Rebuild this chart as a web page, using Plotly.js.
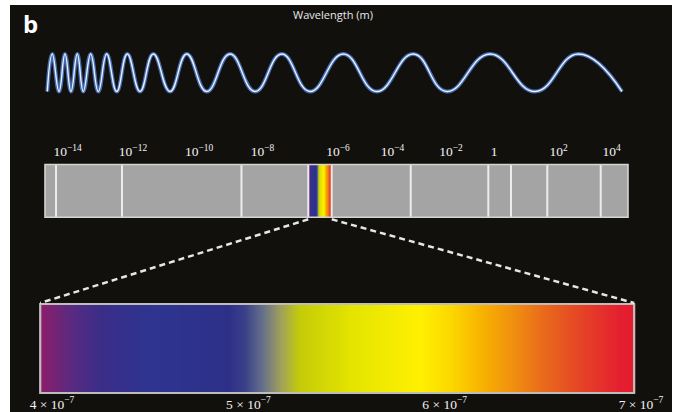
<!DOCTYPE html>
<html><head><meta charset="utf-8">
<script src="https://cdn.plot.ly/plotly-3.0.1.min.js"></script>
<style>html,body{margin:0;padding:0;background:#fff;} #chart{width:679px;height:412px;}</style>
</head><body><div id="chart"></div>
<script>
// ---- Data ----
// Wave: successive troughs (-1) and peaks (+1) along the wave (position along the wave)
const waveX = [0, 5, 11.7, 17.7, 23.7, 30, 36, 43.4, 51, 59.4, 69.4, 80, 92.7, 106, 122.7, 139.4, 159.4, 182.7, 207.7, 234.4, 262.7, 296, 329.4, 366, 399.4, 442.7, 487.7, 531, 574.7];
const waveY = [-1, 1, -1, 1, -1, 1, -1, 1, -1, 1, -1, 1, -1, 1, -1, 1, -1, 1, -1, 1, -1, 1, -1, 1, -1, 1, -1, 1, -1];

// Electromagnetic spectrum bar (positions as a fraction of the bar length)
const tickLabels = ['10<sup>−14</sup>', '10<sup>−12</sup>', '10<sup>−10</sup>', '10<sup>−8</sup>', '10<sup>−6</sup>', '10<sup>−4</sup>', '10<sup>−2</sup>', '1', '10<sup>2</sup>', '10<sup>4</sup>'];
const tickAt = [0.0386, 0.1509, 0.2642, 0.3731, 0.5026, 0.596, 0.6964, 0.7702, 0.8808, 0.9717];
const dividers = [0.0189, 0.1321, 0.337, 0.4516, 0.4918, 0.6273, 0.7604, 0.7993, 0.8616, 0.9532];
const visibleBand = [0.4516, 0.4918];

const lambdaStops = [3.94e-7, 3.95e-7, 4.09e-7, 4.24e-7, 4.50e-7, 4.90e-7, 4.98e-7, 5.07e-7, 5.16e-7, 5.26e-7, 5.52e-7, 5.87e-7, 6.03e-7, 6.18e-7, 6.38e-7, 6.51e-7, 6.69e-7, 6.89e-7, 6.955e-7, 6.965e-7];
const stopColors = ['#8a1e6c', '#8a1e6c', '#5c2a80', '#3b2d88', '#2e3490', '#2e3088', '#3a4088', '#66708a', '#a0a05c', '#c4cc08', '#e4e400', '#fff000', '#fcd800', '#f8b400', '#ef8812', '#e9681c', '#e54426', '#e42030', '#e41c2e', '#e41c2e'];
const lambdaTicks = [4e-7, 5e-7, 6e-7, 7e-7];
const lambdaLabels = ['4 × 10<sup>−7</sup>', '5 × 10<sup>−7</sup>', '6 × 10<sup>−7</sup>', '7 × 10<sup>−7</sup>'];

// ---- Layout geometry ----
const X1 = {domain: [0.06524, 0.92091], range: [-3, 578]};
const Y1 = {domain: [0.7688, 0.878], range: [-1.2, 1.2]};
const X2 = {domain: [0.05769, 0.93348], range: [-0.01, 1.01]};
const Y2 = {domain: [0.45971, 0.61189], range: [-0.1, 1.087]};
const X3 = {domain: [0, 1], range: [3.7351e-7, 7.1936e-7]};
const Y3 = {domain: [0.04330, 0.26862], range: [-0.013, 1.03]};

function toPaper(ax, v) {
  return ax.domain[0] + (v - ax.range[0]) / (ax.range[1] - ax.range[0]) * (ax.domain[1] - ax.domain[0]);
}

const lMin = lambdaStops[0], lMax = lambdaStops[lambdaStops.length - 1];
const colorscale = lambdaStops.map((l, i) => [(l - lMin) / (lMax - lMin), stopColors[i]]);
colorscale[0][0] = 0; colorscale[colorscale.length - 1][0] = 1;
const zRows = [lambdaStops, lambdaStops];
const bandX = lambdaStops.map(l => visibleBand[0] + (l - lMin) / (lMax - lMin) * (visibleBand[1] - visibleBand[0]));

const divX = [], divY = [];
dividers.forEach(d => { divX.push(d, d, null); divY.push(0, 1, null); });

const traces = [
  {type: 'scatter', mode: 'lines', x: waveX, y: waveY, xaxis: 'x', yaxis: 'y',
   line: {shape: 'spline', smoothing: 1.3, width: 4, color: 'rgba(80,130,215,0.8)'}, hoverinfo: 'skip'},
  {type: 'scatter', mode: 'lines', x: waveX, y: waveY, xaxis: 'x', yaxis: 'y',
   line: {shape: 'spline', smoothing: 1.3, width: 1.4, color: '#e8efff'}, hoverinfo: 'skip'},
  {type: 'heatmap', x: bandX, y: [0.25, 0.75], z: zRows, zmin: lMin, zmax: lMax, colorscale: colorscale,
   zsmooth: 'best', showscale: false, xaxis: 'x2', yaxis: 'y2', hoverinfo: 'skip'},
  {type: 'scatter', mode: 'lines', x: divX, y: divY, xaxis: 'x2', yaxis: 'y2',
   line: {width: 2, color: '#ececec'}, hoverinfo: 'skip', connectgaps: false},
  {type: 'heatmap', x: lambdaStops, y: [0.25, 0.75], z: zRows, zmin: lMin, zmax: lMax, colorscale: colorscale,
   zsmooth: 'best', showscale: false, xaxis: 'x3', yaxis: 'y3', hoverinfo: 'skip'}
];

const hidden = {visible: false, fixedrange: true};
const serif = {family: 'Liberation Serif, Times New Roman, serif', size: 13.5, color: '#f2f2f2'};

const shapes = [
  {type: 'rect', xref: 'paper', yref: 'paper', x0: 10 / 679, x1: 672 / 679, y0: 0, y1: 1 - 5 / 412,
   fillcolor: '#12100d', line: {width: 0}, layer: 'below'},
  {type: 'rect', xref: 'x2', yref: 'y2', x0: 0, x1: 1, y0: 0, y1: 1, fillcolor: '#a4a4a4', line: {width: 0}, layer: 'below'},
  {type: 'rect', xref: 'x2', yref: 'y2', x0: 0, x1: 1, y0: 0, y1: 1, fillcolor: 'rgba(0,0,0,0)', line: {width: 1.6, color: '#d4d4d4'}, layer: 'above'},
  {type: 'rect', xref: 'x3', yref: 'y3', x0: lMin, x1: lMax, y0: 0, y1: 1, fillcolor: 'rgba(0,0,0,0)', line: {width: 2.2, color: '#bdbdbd'}, layer: 'above'},
  {type: 'line', xref: 'paper', yref: 'paper',
   x0: toPaper(X2, visibleBand[0]), y0: toPaper(Y2, 0) - 2 / 412,
   x1: toPaper(X3, lMin), y1: toPaper(Y3, 1) + 1 / 412,
   line: {color: '#e6e6e6', width: 2.5, dash: '6px,4px'}},
  {type: 'line', xref: 'paper', yref: 'paper',
   x0: toPaper(X2, visibleBand[1]), y0: toPaper(Y2, 0) - 2 / 412,
   x1: toPaper(X3, lMax), y1: toPaper(Y3, 1) + 1 / 412,
   line: {color: '#e6e6e6', width: 2.5, dash: '6px,4px'}}
];

const layout = {
  width: 679, height: 412, margin: {l: 0, r: 0, t: 0, b: 0},
  paper_bgcolor: '#ffffff', plot_bgcolor: 'rgba(0,0,0,0)', showlegend: false, hovermode: false,
  title: {text: 'Wavelength (m)', x: 333 / 679, xanchor: 'center', xref: 'paper', y: 1 - 15 / 412, yanchor: 'middle', yref: 'container',
          font: {family: 'Open Sans, Noto Sans, sans-serif', size: 11, color: '#e8e8e8'}},
  xaxis: Object.assign({domain: X1.domain, range: X1.range, anchor: 'y'}, hidden),
  yaxis: Object.assign({domain: Y1.domain, range: Y1.range, anchor: 'x'}, hidden),
  xaxis2: {domain: X2.domain, range: X2.range, anchor: 'y2', side: 'top', tickmode: 'array', tickvals: tickAt, ticktext: tickLabels,
           showgrid: false, zeroline: false, showline: false, ticks: '', tickfont: serif, fixedrange: true},
  yaxis2: Object.assign({domain: Y2.domain, range: Y2.range, anchor: 'x2'}, hidden),
  xaxis3: {domain: X3.domain, range: X3.range, anchor: 'y3', side: 'bottom', tickmode: 'array', tickvals: lambdaTicks, ticktext: lambdaLabels,
           showgrid: false, zeroline: false, showline: false, ticks: '', tickfont: serif, fixedrange: true},
  yaxis3: Object.assign({domain: Y3.domain, range: Y3.range, anchor: 'x3'}, hidden),
  shapes: shapes,
  annotations: [
    {text: '<b>b</b>', xref: 'paper', yref: 'paper', x: 30 / 679, y: 1 - 24 / 412, xanchor: 'center', yanchor: 'middle', showarrow: false,
     font: {family: 'Open Sans, Liberation Sans, sans-serif', size: 24, color: '#ffffff'}}
  ]
};

Plotly.newPlot('chart', traces, layout, {staticPlot: true, displayModeBar: false});
</script>
</body></html>
